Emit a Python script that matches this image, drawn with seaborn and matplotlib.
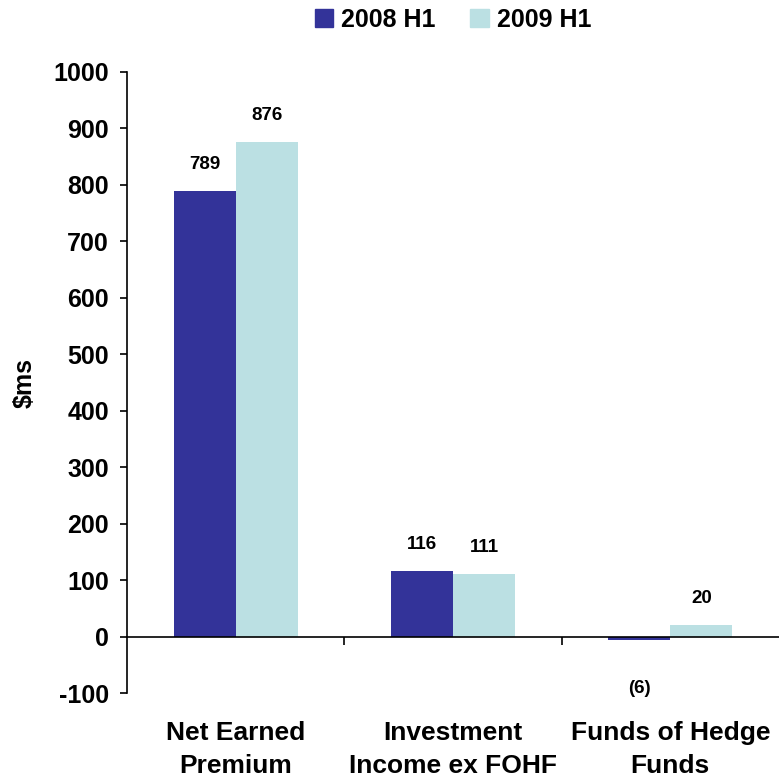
import matplotlib
matplotlib.use('Agg')
import matplotlib.pyplot as plt
import seaborn as sns
import pandas as pd

# chart data
categories = ['Net Earned\nPremium', 'Investment\nIncome ex FOHF', 'Funds of Hedge\nFunds']
periods = ['2008 H1', '2009 H1']
values_2008 = [789, 116, -6]
values_2009 = [876, 111, 20]
y_ticks = [-100, 0, 100, 200, 300, 400, 500, 600, 700, 800, 900, 1000]
colors = ['#333399', '#BBE0E3']

df = pd.DataFrame({
    'category': categories * 2,
    'period': [periods[0]] * 3 + [periods[1]] * 3,
    'value': values_2008 + values_2009,
})

sns.set_theme(style='white')
plt.rcParams['font.family'] = ['Liberation Sans', 'DejaVu Sans']
plt.rcParams['font.weight'] = 'bold'
plt.rcParams['text.color'] = 'black'
plt.rcParams['axes.labelcolor'] = 'black'
plt.rcParams['xtick.color'] = 'black'
plt.rcParams['ytick.color'] = 'black'

fig = plt.figure(figsize=(7.79, 7.80), dpi=100)
ax = fig.add_axes([0.163, 0.1115, 0.837, 0.7962])

sns.barplot(data=df, x='category', y='value', hue='period', palette=colors,
            width=0.57, saturation=1, ax=ax, errorbar=None, linewidth=0, edgecolor='none')
ax.get_legend().remove()

# value labels
for cont, vals in zip(ax.containers, [values_2008, values_2009]):
    for bar, v in zip(cont, vals):
        xc = bar.get_x() + bar.get_width() / 2
        if v >= 0:
            ax.annotate(str(v), (xc, v), xytext=(0, 13), textcoords='offset points',
                        ha='center', va='bottom', fontsize=13.5, fontweight='bold')
        else:
            ax.annotate('(%d)' % abs(v), (xc, v), xytext=(0, -29), textcoords='offset points',
                        ha='center', va='top', fontsize=13.5, fontweight='bold')

ax.set_ylim(-100, 1000)
ax.set_yticks(y_ticks)
ax.set_yticklabels([str(t) for t in y_ticks], fontsize=18, fontweight='bold')
ax.set_ylabel('$ms', fontsize=18, fontweight='bold', labelpad=12)
ax.set_xlabel('')
ax.set_xlim(-0.5, 2.5)

for s in ['top', 'right']:
    ax.spines[s].set_visible(False)
ax.spines['bottom'].set_position(('data', 0))
for s in ['left', 'bottom']:
    ax.spines[s].set_color('black')
    ax.spines[s].set_linewidth(1.2)

ax.tick_params(axis='y', which='major', direction='out', length=5, width=1.2,
               color='black', left=True, pad=8)
ax.set_xticks([0, 1, 2])
ax.set_xticklabels(categories, fontsize=19, fontweight='bold', linespacing=1.45)
ax.tick_params(axis='x', which='major', length=0, pad=61)
ax.set_xticks([0.5, 1.5], minor=True)
ax.tick_params(axis='x', which='minor', direction='out', length=6, width=1.2,
               color='black', bottom=True)

handles = [plt.Rectangle((0, 0), 1, 1, color=c) for c in colors]
ax.legend(handles=handles, labels=periods, loc='center', bbox_to_anchor=(0.5, 1.084),
          ncol=2, frameon=False, handlelength=0.75, handleheight=0.75,
          handletextpad=0.3, columnspacing=1.4, prop={'size': 18, 'weight': 'bold'})

fig.savefig('out.png', dpi=100)
